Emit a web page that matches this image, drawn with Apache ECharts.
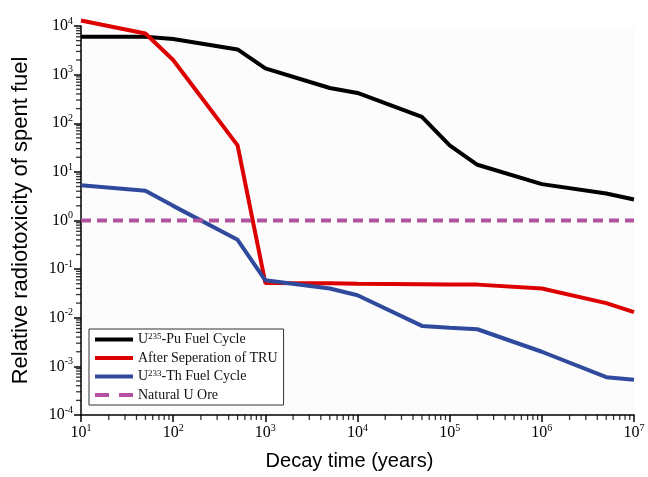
<!DOCTYPE html>
<html style="height: 100%">
<head>
<meta charset="utf-8">
<script src="https://cdn.jsdelivr.net/npm/echarts@6/dist/echarts.min.js"></script>
</head>
<body style="height: 100%; margin: 0; background: #fff">
<div id="container" style="width: 648px; height: 477px"></div>
<script type="text/javascript">
// decay time points (years)
var years = [10, 50, 100, 500, 1e3, 5e3, 1e4, 5e4, 1e5, 2e5, 1e6, 5e6, 1e7];
var puCycle = [6000, 6000, 5400, 3300, 1350, 530, 420, 135, 35, 14, 5.6, 3.6, 2.7];
var afterTru = [13000, 7000, 2000, 35, 0.052, 0.051, 0.05, 0.049, 0.048, 0.048, 0.04, 0.02, 0.013];
var thCycle = [5.3, 4.1, 2.0, 0.4, 0.059, 0.04, 0.029, 0.0068, 0.0062, 0.0058, 0.002, 0.0006, 0.00053];
var uOre = [1, 1, 1, 1, 1, 1, 1, 1, 1, 1, 1, 1, 1];
var names = ['U235-Pu Fuel Cycle', 'After Seperation of TRU', 'U233-Th Fuel Cycle', 'Natural U Ore'];

var xMin = 10, xMax = 1e7, yMin = 1e-4, yMax = 1e4;

function pairs(vals) {
    return years.map(function (x, i) { return [x, vals[i]]; });
}

// log-style minor ticks (2..9 x 10^n)
function minorTicks(lo, hi) {
    var out = [];
    for (var e = lo; e < hi; e++) {
        for (var k = 2; k <= 9; k++) out.push(k * Math.pow(10, e));
    }
    return out;
}
var xMinor = minorTicks(1, 7).map(function (x) { return [x, yMin]; });
var yMinor = minorTicks(-4, 4).map(function (y) { return [xMin, y]; });

var serif = '"Liberation Serif", "DejaVu Serif", serif';
var sans = '"Liberation Sans", Arial, sans-serif';

var powLabel = function (v) {
    var e = Math.round(Math.log10(v));
    return '{b|10}{s|' + e + '}';
};
var powRich = {
    b: { fontFamily: serif, fontSize: 16, color: '#000', lineHeight: 20 },
    s: { fontFamily: serif, fontSize: 10, color: '#000', lineHeight: 20, verticalAlign: 'top', padding: [0, 0, 9, 0] }
};

var dom = document.getElementById('container');
var myChart = echarts.init(dom);
var option = {
    backgroundColor: '#fff',
    animation: false,
    grid: { left: 81, right: 14, top: 26, bottom: 62, show: true, backgroundColor: '#fcfcfc', borderWidth: 0 },
    legend: {
        orient: 'vertical',
        left: 89,
        top: 329,
        itemWidth: 38,
        itemHeight: 4,
        itemGap: 4,
        padding: [3, 6, 3, 6],
        borderColor: '#333',
        borderWidth: 1,
        backgroundColor: '#fff',
        data: [
            { name: names[0], icon: 'rect' },
            { name: names[1], icon: 'rect' },
            { name: names[2], icon: 'rect' },
            { name: names[3], icon: 'path://M0,0h14v4h-14zM24,0h14v4h-14z' }
        ],
        formatter: function (n) {
            if (n === names[0]) return '{t|U}{s|235}{t|-Pu Fuel Cycle}';
            if (n === names[2]) return '{t|U}{s|233}{t|-Th Fuel Cycle}';
            return '{t|' + n + '}';
        },
        textStyle: {
            rich: {
                t: { fontFamily: serif, fontSize: 14, color: '#111', lineHeight: 15 },
                s: { fontFamily: serif, fontSize: 9, color: '#111', lineHeight: 15, verticalAlign: 'top', padding: [0, 0, 6, 0] }
            }
        }
    },
    xAxis: {
        type: 'log',
        logBase: 10,
        min: xMin,
        max: xMax,
        name: 'Decay time (years)',
        nameLocation: 'middle',
        nameGap: 36,
        nameTextStyle: { fontFamily: sans, fontSize: 20, color: '#000', padding: [0, 16, 0, 0] },
        axisLine: { onZero: false, lineStyle: { color: '#000', width: 1.5 } },
        axisTick: { show: true, length: 7, lineStyle: { color: '#000', width: 1.5 } },
        splitLine: { show: false },
        axisLabel: { formatter: powLabel, rich: powRich, margin: 8 }
    },
    yAxis: {
        type: 'log',
        logBase: 10,
        min: yMin,
        max: yMax,
        name: 'Relative radiotoxicity of spent fuel',
        nameLocation: 'middle',
        nameGap: 49,
        nameTextStyle: { fontFamily: sans, fontSize: 22, color: '#000' },
        axisLine: { show: true, lineStyle: { color: '#000', width: 1.5 } },
        axisTick: { show: true, length: 7, lineStyle: { color: '#000', width: 1.5 } },
        splitLine: { show: false },
        axisLabel: { formatter: powLabel, rich: powRich, margin: 8 }
    },
    series: [
        { name: names[0], type: 'line', data: pairs(puCycle), symbol: 'none', clip: false, lineStyle: { color: '#000', width: 4 }, itemStyle: { color: '#000' } },
        { name: names[1], type: 'line', data: pairs(afterTru), symbol: 'none', clip: false, lineStyle: { color: '#dd0000', width: 4 }, itemStyle: { color: '#dd0000' } },
        { name: names[2], type: 'line', data: pairs(thCycle), symbol: 'none', clip: false, lineStyle: { color: '#2f4a9c', width: 4 }, itemStyle: { color: '#2f4a9c' } },
        { name: names[3], type: 'line', data: pairs(uOre), symbol: 'none', clip: false, lineStyle: { color: '#b5529f', width: 4, type: [10, 6] }, itemStyle: { color: '#b5529f' } },
        // minor tick marks along the axes
        { type: 'scatter', silent: true, clip: false, data: xMinor, symbol: 'rect', symbolSize: [1.3, 5], symbolOffset: [0, 2.5], itemStyle: { color: '#000' }, z: 1 },
        { type: 'scatter', silent: true, clip: false, data: yMinor, symbol: 'rect', symbolSize: [5, 1.3], symbolOffset: [-2.5, 0], itemStyle: { color: '#000' }, z: 1 }
    ]
};
myChart.setOption(option);
</script>
</body>
</html>
